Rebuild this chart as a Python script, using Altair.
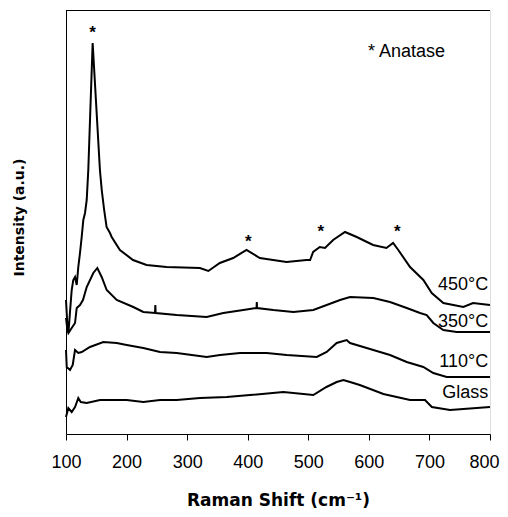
import altair as alt
import pandas as pd

# ---- data (x = Raman shift, intensity in arbitrary units) ----
x_450 = [100, 102, 104, 106.6, 109.4, 112, 114.9, 117.7, 120.3, 123.1, 125.9, 128.6, 131.4, 134.2, 136.8,
         144, 156, 159, 163, 167, 172.6, 175.4, 189, 210.6, 233, 266, 321, 335, 354, 376, 398, 420, 442,
         464, 497, 503, 508, 519, 527.6, 541, 560.6, 580, 607, 629, 640, 648.6, 668, 690, 703.8, 723, 756, 772, 800]
y_450 = [134, 112, 101, 122, 144, 154, 157, 149, 167, 181, 197, 214, 221, 234, 264,
         391, 264, 244, 224, 207, 201, 197, 184, 174, 169, 167, 166, 163, 171, 176, 184, 176, 174,
         172, 174, 174, 182, 187, 186, 194, 202, 197, 189, 186, 191, 184, 167, 154, 141, 131, 127, 131, 129]

x_350 = [100, 102, 104, 109.4, 114.9, 117.7, 123.1, 128, 134.2, 145.1, 151.7, 158.9, 167.2, 183.7, 211.1,
         227.6, 247, 247.5, 248, 282.8, 332.3, 359.7, 392.7, 414.6, 415, 415.4, 442.3, 475.3, 508.3, 530.4,
         552.4, 568.9, 607.4, 634.9, 662.5, 684.5, 695.5, 706.4, 722.9, 745, 800]
y_350 = [116, 106, 101, 106, 111, 126, 129, 134, 147, 161, 166, 157, 144, 134, 127,
         122, 121, 129, 121, 119, 117, 121, 124, 126, 132, 126, 124, 122, 124, 129,
         134, 137, 136, 132, 126, 121, 119, 111, 104, 102, 102]

x_110 = [100, 101.2, 106.6, 111.1, 114.9, 120.3, 125.9, 139.6, 161.6, 183.7, 200.2, 227.6, 255.2, 282.8,
         332.3, 354.3, 387.3, 431.4, 464.4, 513.9, 530.4, 546.9, 563.4, 568.9, 607.4, 634.9, 662.5, 689.9,
         706.4, 728.5, 800]
y_110 = [84, 67, 64, 69, 84, 81, 82, 87, 92, 91, 89, 86, 82, 81,
         77, 79, 81, 81, 79, 77, 82, 91, 94, 91, 84, 79, 72, 67,
         61, 57, 57]

x_glass = [100, 103.8, 109.4, 114.9, 120.3, 124.3, 134.2, 156.1, 200.2, 227.6, 255.2, 282.8, 321.2, 365.3,
           403.8, 458.8, 508.3, 530, 546.9, 558, 568.9, 585, 624, 668, 692.7, 704, 734, 800]
y_glass = [17, 26, 22, 27, 36, 32, 31, 34, 34, 32, 34, 34, 36, 37,
           39, 42, 39, 47, 52, 54, 52, 49, 40, 34, 34, 27, 24, 27]

series_names = ["450°C", "350°C", "110°C", "Glass"]
label_x = [797, 797, 797, 797]
label_y = [144, 107, 67, 36]

star_x = [144, 401, 520.5, 647]
star_y = [396, 187, 197, 197]

legend_text = ["* Anatase"]
legend_x = [598.6]
legend_y = [377]

x_ticks = [100, 200, 300, 400, 500, 600, 700, 800]

# ---- build table ----
rows = []
for name, xs, ys in zip(series_names, [x_450, x_350, x_110, x_glass], [y_450, y_350, y_110, y_glass]):
    for i, (a, b) in enumerate(zip(xs, ys)):
        rows.append({"series": name, "x": a, "y": b, "i": i})
df = pd.DataFrame(rows)

labels_df = pd.DataFrame({"t": series_names, "x": label_x, "y": label_y})
stars_df = pd.DataFrame({"t": ["*"] * len(star_x), "x": star_x, "y": star_y})
legend_df = pd.DataFrame({"t": legend_text, "x": legend_x, "y": legend_y})

FONT = "Liberation Sans"
TFONT = "DejaVu Sans"

xscale = alt.Scale(domain=[100, 800], nice=False, zero=False)
yscale = alt.Scale(domain=[0, 424], nice=False, zero=False)

xaxis = alt.Axis(values=x_ticks, title="Raman Shift (cm⁻¹)", grid=False, tickSize=6,
                 labelPadding=13, titlePadding=21, labelFontSize=18, titleFontSize=17,
                 labelFont=FONT, titleFont=TFONT, titleFontWeight="bold",
                 labelColor="black", titleColor="black", tickColor="black", domainColor="black",
                 labelFlush=False,
                 labelOffset={"condition": {"test": "datum.value == 800", "value": -6}, "value": 0})
yaxis = alt.Axis(title="Intensity (a.u.)", labels=False, ticks=False, grid=False,
                 titlePadding=40, titleFontSize=14, titleFont=TFONT, titleFontWeight="bold",
                 titleColor="black", domainColor="black", titleY=207)

lines = alt.Chart(df).mark_line(color="black", strokeWidth=2).encode(
    x=alt.X("x:Q", scale=xscale, axis=xaxis),
    y=alt.Y("y:Q", scale=yscale, axis=yaxis),
    detail="series:N",
    order="i:Q",
)

# top edge of the plot frame
frame_top = alt.Chart(pd.DataFrame({"k": [0]})).mark_rule(color="black", strokeWidth=1).encode(
    x=alt.value(0), x2=alt.value(424), y=alt.value(0.5))

labels = alt.Chart(labels_df).mark_text(align="right", baseline="alphabetic", fontSize=18,
                                         font=FONT, color="black").encode(
    x=alt.X("x:Q", scale=xscale), y=alt.Y("y:Q", scale=yscale), text="t:N")

stars = alt.Chart(stars_df).mark_text(align="center", baseline="alphabetic", fontSize=17,
                                       fontWeight="bold", font=FONT, color="black").encode(
    x=alt.X("x:Q", scale=xscale), y=alt.Y("y:Q", scale=yscale), text="t:N")

legend = alt.Chart(legend_df).mark_text(align="left", baseline="alphabetic", fontSize=18,
                                         font=FONT, color="black").encode(
    x=alt.X("x:Q", scale=xscale), y=alt.Y("y:Q", scale=yscale), text="t:N")

chart = alt.layer(lines, frame_top, labels, stars, legend).properties(
    width=424, height=424,
    autosize=alt.AutoSizeParams(type="none"),
    padding={"left": 58, "top": 2, "right": 10, "bottom": 75},
).configure_view(stroke="black", strokeWidth=1).configure(background="white")

chart.save("out.html", embed_options={"renderer": "svg", "actions": False})
